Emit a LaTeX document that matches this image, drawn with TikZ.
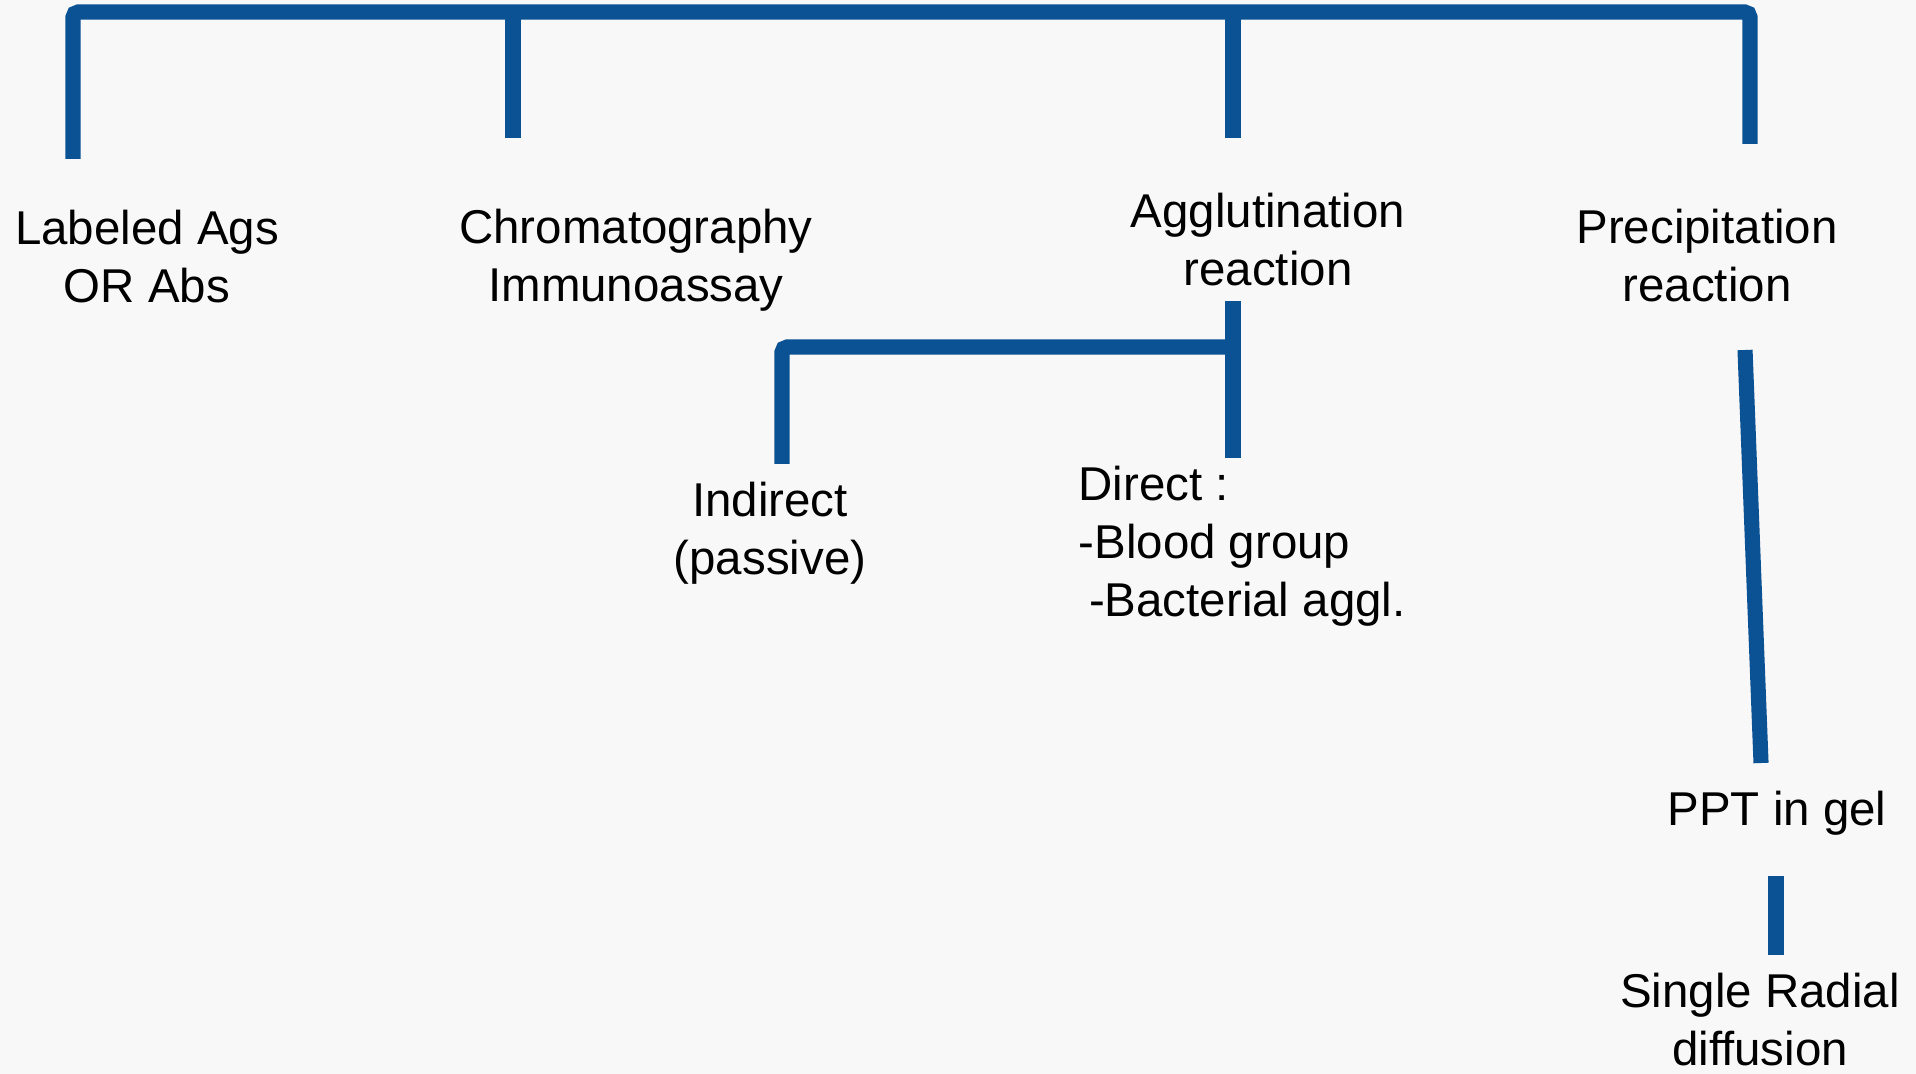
\documentclass[tikz,border=0pt]{standalone}
\usepackage{fontspec}
\setmainfont{Liberation Sans}
\usetikzlibrary{positioning,backgrounds}
\definecolor{barblue}{RGB}{11,82,148}
\definecolor{paper}{RGB}{248,248,248}

\begin{document}
\begin{tikzpicture}[x=0.1mm, y=-0.1mm]
    \tikzset{
        txt/.style = {align=center, inner sep=0pt, font=\fontsize{13.5}{16.5}\selectfont},
        bar/.style = {draw=barblue, line width=4.3pt},
        elbow/.style = {bar, rounded corners=1.5pt}
    }
    \fill[paper] (0,0) rectangle (1916,1074);
    \useasboundingbox (0,0) rectangle (1916,1074);

    \node (labeled) [txt] at (147,257) {Labeled Ags\\OR Abs};
    \node (chrom) [txt] at (636,260) {Chromatography\\Immunoassay};
    \node (agglut) [txt] at (1268,240) {Agglutination\\reaction};
    \node (precip) [txt] at (1707,256) {Precipitation\\reaction};

    \node (indirect) [txt] at (770,533) {Indirect\\(passive)};
    \node (direct) [txt, align=left, anchor=west] at (1078,546) {Direct :\\-Blood group\\\hspace{0.22em}-Bacterial aggl.};

    \node (ppt) [txt] at (1777,813) {PPT in gel};
    \node (srd) [txt] at (1760,1020) {Single Radial\\diffusion};

    % top bracket
    \coordinate (topL) at (73,12);
    \coordinate (topR) at (1750,12);
    \coordinate (labeledEnd) at (73,159);
    \coordinate (chromEnd) at (513,138);
    \coordinate (agglutEnd) at (1233,138);
    \coordinate (precipEnd) at (1750,144);
    \draw [elbow] (labeledEnd) -- (topL) -- (topR) -- (precipEnd);
    \draw [bar] (chromEnd) -- (chromEnd |- topL);
    \draw [bar] (agglutEnd) -- (agglutEnd |- topL);

    % agglutination branch
    \coordinate (subL) at (782,347);
    \coordinate (agglutBot) at (1233,301);
    \coordinate (directEnd) at (1233,458);
    \coordinate (indirectEnd) at (782,464);
    \draw [elbow] (indirectEnd) -- (subL) -- (subL -| agglutBot);
    \draw [bar] (agglutBot) -- (directEnd);

    % precipitation branch
    \coordinate (precipBot) at (1745,350);
    \coordinate (pptTop) at (1761,763);
    \coordinate (pptBot) at (1776,876);
    \coordinate (srdTop) at (1776,955);
    \draw [bar] (precipBot) -- (pptTop);
    \draw [bar] (pptBot) -- (srdTop);
\end{tikzpicture}
\end{document}
